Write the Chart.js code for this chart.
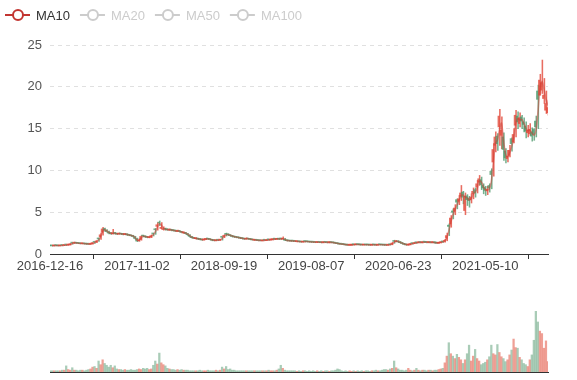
<!DOCTYPE html>
<html><head><meta charset="utf-8">
<script src="https://cdn.jsdelivr.net/npm/chart.js@4/dist/chart.umd.min.js"></script>
<style>
html,body{margin:0;padding:0;background:#fff;}
#wrap{position:relative;width:577px;height:380px;overflow:hidden;}
.box{position:absolute;left:0;width:577px;}
</style></head><body>
<div id="wrap">
<div class="box" style="top:0;height:290px"><canvas id="price" width="577" height="290"></canvas></div>
<div class="box" style="top:290px;height:90px"><canvas id="vol" width="577" height="90"></canvas></div>
</div>
<script>
const tickDates = ['2016-12-16','2017-11-02','2018-09-19','2019-08-07','2020-06-23','2021-05-10'];
const daysPerTick = 215;   // trading days between two axis labels
const sampleStep = 5;      // trading days between samples
const legendNames = ['MA10','MA20','MA50','MA100'];

const open = [
1.02,1.00,0.99,1.03,1.01,0.99,1.04,1.03,1.09,1.08,
1.12,1.32,1.30,1.36,1.31,1.29,1.24,1.26,1.23,1.21,
1.17,1.25,1.43,1.45,1.85,2.05,2.60,3.05,2.75,2.65,
2.52,2.42,2.55,2.46,2.38,2.47,2.41,2.33,2.42,2.33,
2.26,2.22,2.08,1.82,1.58,1.75,2.20,2.12,2.06,1.97,
2.05,2.48,2.95,3.30,3.80,3.05,2.92,3.02,2.96,2.86,
2.92,2.84,2.82,2.70,2.76,2.68,2.52,2.58,2.40,2.25,
2.05,1.97,1.83,1.86,1.80,1.76,1.68,1.74,1.84,1.80,
1.72,1.66,1.60,1.68,1.66,2.05,2.10,2.40,2.36,2.28,
2.16,2.08,2.06,1.98,1.96,1.88,1.86,1.79,1.86,1.79,
1.74,1.66,1.69,1.66,1.63,1.58,1.67,1.62,1.73,1.69,
1.72,1.80,1.76,1.82,1.86,1.78,1.80,1.66,1.62,1.59,
1.57,1.56,1.49,1.52,1.49,1.44,1.52,1.51,1.47,1.46,
1.45,1.43,1.39,1.43,1.41,1.37,1.43,1.41,1.37,1.41,
1.39,1.36,1.31,1.26,1.21,1.19,1.16,1.11,1.06,1.07,
1.14,1.11,1.16,1.14,1.13,1.09,1.13,1.12,1.11,1.07,
1.12,1.11,1.07,1.14,1.13,1.11,1.09,1.06,1.14,1.16,
1.58,1.48,1.56,1.47,1.36,1.27,1.17,1.08,1.14,1.28,
1.26,1.38,1.36,1.42,1.36,1.45,1.43,1.38,1.42,1.37,
1.42,1.37,1.30,1.36,1.48,1.52,1.90,3.45,3.60,5.15,
5.10,6.50,6.30,6.90,7.40,5.20,6.95,6.70,6.50,7.20,
7.70,8.00,8.60,8.90,8.20,7.95,7.55,8.20,9.90,11.0,
13.0,14.1,15.2,14.2,14.0,12.3,11.4,11.8,13.8,13.4,
15.4,16.5,15.6,16.4,15.8,15.3,14.5,14.4,14.6,14.9,
15.9,19.5,19.0,19.6,18.6,17.2,16.9];

const close = [
1.00,0.98,1.00,1.02,0.99,1.00,1.03,1.05,1.08,1.10,
1.20,1.30,1.35,1.30,1.28,1.25,1.27,1.22,1.20,1.18,
1.20,1.30,1.40,1.55,1.80,2.30,3.00,2.85,2.70,2.50,
2.45,2.50,2.45,2.40,2.45,2.40,2.35,2.40,2.30,2.25,
2.20,2.10,1.85,1.55,1.70,2.10,2.15,2.05,2.00,2.00,
2.20,2.40,2.90,3.50,3.70,3.20,3.00,2.95,2.90,2.90,
2.85,2.80,2.75,2.75,2.70,2.60,2.55,2.45,2.30,2.10,
1.95,1.90,1.85,1.80,1.75,1.70,1.75,1.80,1.80,1.75,
1.65,1.62,1.65,1.65,1.70,2.00,2.20,2.35,2.30,2.20,
2.10,2.05,2.00,1.95,1.90,1.85,1.80,1.85,1.80,1.75,
1.70,1.68,1.65,1.62,1.60,1.62,1.65,1.65,1.70,1.72,
1.75,1.78,1.80,1.78,1.80,1.85,1.65,1.60,1.58,1.55,
1.55,1.52,1.50,1.48,1.45,1.47,1.50,1.48,1.45,1.43,
1.42,1.40,1.42,1.40,1.38,1.40,1.40,1.38,1.40,1.38,
1.35,1.30,1.25,1.20,1.18,1.15,1.10,1.08,1.08,1.10,
1.12,1.15,1.13,1.12,1.10,1.12,1.10,1.10,1.08,1.10,
1.10,1.08,1.10,1.12,1.10,1.08,1.07,1.10,1.12,1.30,
1.50,1.55,1.45,1.35,1.25,1.15,1.10,1.12,1.20,1.25,
1.30,1.35,1.40,1.38,1.40,1.42,1.40,1.40,1.38,1.40,
1.35,1.32,1.35,1.40,1.45,1.60,2.20,3.30,4.30,5.00,
5.50,6.20,6.60,7.30,6.80,6.90,6.50,6.40,6.80,7.50,
7.30,8.40,9.00,8.30,7.90,7.60,7.70,7.90,9.50,12.5,
14.0,13.2,16.5,14.8,12.5,11.5,11.7,12.4,13.2,14.3,
16.6,15.8,16.3,15.9,15.5,14.7,14.8,14.9,14.1,14.3,
15.2,18.5,20.8,20.5,19.0,18.0,17.5];

const high = [
1.04,1.02,1.03,1.05,1.04,1.03,1.06,1.08,1.12,1.14,
1.25,1.36,1.42,1.38,1.33,1.30,1.31,1.29,1.25,1.23,
1.24,1.35,1.45,1.62,1.90,2.50,3.20,3.10,2.92,2.75,
2.55,2.95,2.58,2.48,2.52,2.48,2.45,2.46,2.42,2.33,
2.28,2.24,2.12,1.90,1.80,2.20,2.25,2.18,2.10,2.08,
2.28,2.50,3.05,3.75,3.95,3.75,3.25,3.10,3.02,3.00,
2.95,2.90,2.85,2.85,2.80,2.72,2.65,2.58,2.48,2.32,
2.12,2.00,1.95,1.90,1.85,1.80,1.82,1.88,1.86,1.84,
1.76,1.70,1.70,1.72,1.76,2.08,2.30,2.50,2.42,2.32,
2.22,2.14,2.08,2.05,1.98,1.94,1.88,1.92,1.88,1.84,
1.78,1.74,1.72,1.68,1.66,1.68,1.70,1.71,1.76,1.78,
1.80,1.83,1.86,1.84,1.90,2.05,1.88,1.68,1.64,1.62,
1.60,1.58,1.56,1.54,1.52,1.52,1.55,1.54,1.51,1.49,
1.47,1.46,1.47,1.45,1.44,1.45,1.45,1.44,1.45,1.43,
1.42,1.38,1.33,1.28,1.23,1.21,1.17,1.13,1.13,1.15,
1.17,1.19,1.18,1.17,1.15,1.16,1.15,1.15,1.13,1.14,
1.15,1.13,1.14,1.16,1.15,1.13,1.12,1.14,1.17,1.38,
1.65,1.62,1.60,1.50,1.38,1.28,1.18,1.17,1.25,1.30,
1.36,1.40,1.46,1.45,1.45,1.48,1.46,1.46,1.44,1.45,
1.45,1.40,1.40,1.45,1.52,1.75,2.50,3.60,4.60,5.40,
5.90,6.60,7.00,8.20,7.50,7.30,7.10,6.90,7.20,7.90,
7.90,8.80,9.40,9.20,8.40,8.10,8.10,8.40,10.2,13.2,
14.6,14.4,17.3,16.4,14.5,12.6,12.4,13.0,13.9,15.0,
17.2,17.0,16.9,16.6,16.3,15.8,15.4,15.6,15.1,15.0,
16.5,20.2,21.5,23.2,21.0,19.5,18.4];

const low = [
0.96,0.95,0.96,0.97,0.96,0.97,0.98,1.00,1.02,1.05,
1.07,1.17,1.27,1.27,1.25,1.22,1.22,1.19,1.16,1.14,
1.15,1.17,1.27,1.36,1.50,1.75,2.25,2.70,2.60,2.40,
2.35,2.38,2.36,2.32,2.36,2.33,2.28,2.30,2.22,2.18,
2.12,2.02,1.78,1.48,1.52,1.65,2.05,1.98,1.93,1.93,
1.95,2.15,2.35,2.85,3.40,3.00,2.86,2.86,2.82,2.82,
2.76,2.72,2.68,2.67,2.62,2.52,2.46,2.36,2.20,2.02,
1.88,1.83,1.78,1.73,1.68,1.63,1.66,1.72,1.73,1.68,
1.58,1.56,1.58,1.59,1.62,1.66,1.95,2.15,2.20,2.12,
2.02,1.98,1.93,1.88,1.83,1.78,1.74,1.77,1.74,1.69,
1.64,1.62,1.59,1.56,1.55,1.56,1.58,1.60,1.62,1.65,
1.68,1.71,1.73,1.72,1.74,1.76,1.60,1.55,1.53,1.50,
1.49,1.47,1.45,1.43,1.40,1.41,1.43,1.43,1.40,1.38,
1.37,1.35,1.36,1.35,1.33,1.35,1.35,1.33,1.34,1.33,
1.30,1.24,1.19,1.15,1.12,1.10,1.05,1.03,1.03,1.04,
1.06,1.09,1.08,1.07,1.05,1.06,1.05,1.05,1.03,1.05,
1.05,1.03,1.05,1.07,1.05,1.03,1.02,1.04,1.07,1.10,
1.28,1.45,1.38,1.28,1.18,1.09,1.04,1.05,1.10,1.18,
1.24,1.28,1.33,1.32,1.34,1.36,1.34,1.34,1.32,1.34,
1.28,1.26,1.28,1.33,1.38,1.42,1.58,2.20,3.20,4.20,
4.70,5.40,5.90,6.40,6.00,4.70,5.80,5.60,6.10,6.60,
6.80,7.30,8.20,7.70,7.20,7.00,7.10,7.40,7.80,9.30,
12.2,12.4,13.0,12.6,11.2,10.9,11.0,11.6,12.3,13.3,
14.0,15.0,15.2,15.0,14.6,13.9,14.0,14.2,13.5,13.6,
14.0,15.0,19.0,19.2,18.0,16.8,16.6];

const volume = [
2,2,2,2,2,2,3,3,10,4,
3,7,3,3,2,3,3,2,3,4,
5,8,9,6,18,12,20,14,11,8,
11,7,10,5,4,4,3,4,3,3,
4,3,3,4,5,4,6,5,6,4,
5,11,18,13,31,15,12,10,6,5,
4,4,3,4,3,4,3,3,3,2,
2,2,2,2,3,2,2,2,3,2,
2,2,3,2,3,8,5,9,4,5,
3,3,2,2,2,2,2,2,2,2,
2,2,2,2,2,2,2,2,3,2,
2,2,3,5,11,6,3,2,2,2,
2,2,1,2,1,2,2,1,2,1,
2,1,2,1,2,1,2,2,1,2,
2,3,5,4,2,1,2,1,2,1,
2,1,2,1,2,1,2,2,1,2,
2,3,2,2,3,4,4,3,5,6,
18,7,5,3,3,2,3,6,3,2,
3,6,3,2,3,3,2,3,3,2,
3,3,4,5,6,15,26,48,30,26,
22,29,24,20,14,20,30,44,18,26,
37,22,18,12,14,16,20,25,44,30,
28,45,32,25,22,17,20,28,36,54,
40,39,24,20,14,12,9,20,28,52,
100,82,67,63,39,51,17];

// MA10 = mean of the last 10 trading-day closes (2 samples of 5 days)
const ma10 = close.map((c, i) => i < 1 ? null : (close[i - 1] + c) / 2);

// ---- styling ----
const FONT = '"Liberation Sans", Arial, sans-serif';
Chart.defaults.font.family = FONT;
Chart.defaults.font.size = 13;
Chart.defaults.animation = false;
const UP = 'rgba(226,72,58,0.8)';
const DOWN = 'rgba(72,150,104,0.75)';
const VUP = 'rgba(226,82,64,0.55)';
const VDOWN = 'rgba(84,154,112,0.5)';
const MA_COLOR = '#c23531';
const isUp = open.map((o, i) => close[i] >= o);
const xs = close.map((_, i) => i * sampleStep);
const xMax = (close.length - 1) * sampleStep;

const legendPlugin = {
  id: 'maLegend',
  afterDraw(chart) {
    const ctx = chart.ctx;
    ctx.save();
    ctx.font = '13px ' + FONT;
    ctx.textBaseline = 'middle';
    ctx.textAlign = 'left';
    let x = 5; const y = 15;
    legendNames.forEach((name, k) => {
      const on = k === 0;
      const col = on ? MA_COLOR : '#ccc';
      ctx.strokeStyle = col; ctx.lineWidth = 2;
      ctx.beginPath(); ctx.moveTo(x, y); ctx.lineTo(x + 25, y); ctx.stroke();
      ctx.beginPath(); ctx.arc(x + 13, y, 5, 0, Math.PI * 2);
      ctx.fillStyle = '#fff'; ctx.fill(); ctx.stroke();
      ctx.fillStyle = on ? '#333' : '#ccc';
      ctx.fillText(name, x + 31, y + 1);
      x += 31 + ctx.measureText(name).width + 10;
    });
    ctx.restore();
  }
};

new Chart(document.getElementById('price'), {
  type: 'bar',
  data: {
    datasets: [
      { type: 'line', label: 'MA10', data: xs.map((x, i) => ({ x, y: ma10[i] })),
        borderColor: 'rgba(205,60,50,0.5)', borderWidth: 1.6, pointRadius: 0, tension: 0.3, order: 0 },
      { label: 'wick', data: xs.map((x, i) => ({ x, y: [low[i], high[i]] })),
        backgroundColor: isUp.map(u => u ? UP : DOWN), barThickness: 0.9, order: 2 },
      { label: 'body', data: xs.map((x, i) => ({ x, y: [open[i], close[i]] })),
        backgroundColor: isUp.map(u => u ? UP : DOWN), barThickness: 1.5, minBarLength: 1, order: 1 }
    ]
  },
  options: {
    responsive: false,
    layout: { padding: { top: 45, right: 29, left: 0, bottom: 0 } },
    plugins: { legend: { display: false }, tooltip: { enabled: false } },
    scales: {
      x: {
        type: 'linear', min: 0, max: xMax, offset: false,
        afterBuildTicks: s => { s.ticks = tickDates.map((d, k) => ({ value: k * daysPerTick })); },
        afterFit: s => { s.height = 36; },
        ticks: { callback: v => tickDates[Math.round(v / daysPerTick)], autoSkip: false, maxRotation: 0, padding: 0, color: '#444' },
        grid: { drawOnChartArea: false, drawTicks: true, tickLength: 5, color: '#333' },
        border: { display: true, color: '#333', width: 1 }
      },
      y: {
        min: 0, max: 25,
        afterFit: s => { s.width = 50; },
        ticks: { stepSize: 5, padding: 8, color: '#555' },
        grid: { drawTicks: false, color: c => c.tick && c.tick.value === 0 ? 'rgba(0,0,0,0)' : '#e0e0e0' },
        border: { display: false, dash: [4, 4] }
      }
    }
  },
  plugins: [legendPlugin]
});

new Chart(document.getElementById('vol'), {
  type: 'bar',
  data: {
    datasets: [
      { label: 'Volume', data: xs.map((x, i) => ({ x, y: volume[i] })),
        backgroundColor: isUp.map(u => u ? VUP : VDOWN), barThickness: 1.6 }
    ]
  },
  options: {
    responsive: false,
    layout: { padding: { top: 21, right: 29, left: 50, bottom: 8 } },
    plugins: { legend: { display: false }, tooltip: { enabled: false } },
    scales: {
      x: {
        type: 'linear', min: 0, max: xMax, offset: false,
        afterFit: s => { s.height = 0; },
        ticks: { display: false },
        grid: { display: true, drawOnChartArea: false, drawTicks: false },
        border: { display: true, color: '#333', width: 1 }
      },
      y: { display: false, min: 0, max: 100 }
    }
  }
});
</script>
</body></html>
